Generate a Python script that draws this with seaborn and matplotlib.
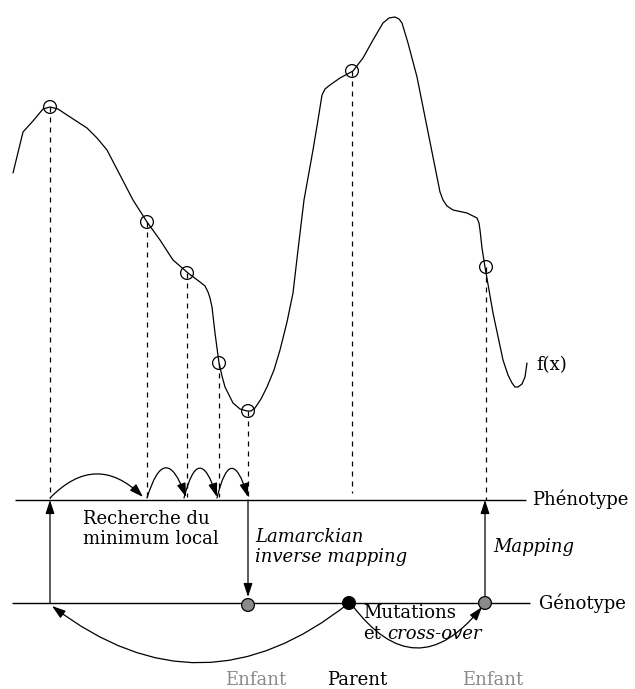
#!/usr/bin/env python3
"""
Lamarckian local search: phenotype / genotype diagram
"""

import pandas as pd
import matplotlib.pyplot as plt
import seaborn as sns
from matplotlib.patches import FancyArrowPatch

# ============================================
# Data (pixel-like coordinates, y grows downward)
# ============================================
curve_x = [13, 23, 33, 43, 50, 58, 67, 87, 97, 107, 120, 133, 147, 160, 173, 188,
           200, 205, 208, 210, 212, 215, 219, 222, 225, 233, 240, 247, 251, 255, 261,
           267, 274, 280, 287, 293, 298, 304, 313, 318, 322, 325, 330, 340,
           353, 363, 373, 383, 389, 395, 399, 402, 408, 417, 427, 437, 440, 443, 447,
           453, 467, 477, 479, 480, 482, 485, 493, 503, 508, 512, 515, 518, 522, 525, 527]
curve_y = [173, 132, 121, 109, 107, 109, 115, 128, 138, 150, 175, 200, 222, 240, 260, 273,
           282, 286, 292, 298, 307, 333, 363, 376, 387, 403, 409, 411, 411, 408, 399,
           387, 370, 350, 322, 293, 250, 200, 150, 120, 95, 89, 85, 78,
           71, 58, 40, 23, 18, 17, 19, 23, 43, 77, 127, 177, 192, 200, 206,
           210, 213, 218, 223, 230, 248, 267, 313, 360, 375, 383, 387, 387, 384, 377, 363]

# sampled points on f(x) (open circles) and where their dashed lines stop
probe_x = [50, 147, 187, 219, 248, 352, 486]
probe_y = [107, 222, 273, 363, 411, 71, 267]
probe_end = [498, 497, 497, 497, 497, 493, 500]

# levels
PHENO_Y = 500
GENO_Y = 603
pheno_span = [15, 526]
geno_span = [12, 530]

# individuals on the genotype line
geno_x = [248, 349, 485]
geno_role = ["Enfant", "Parent", "Enfant"]
geno_color = ["#8a8a8a", "black", "#8a8a8a"]

# local-search hops on the phenotype line
hop_start = [50, 147, 184, 217]
hop_end = [143, 186, 217, 248]
hop_rad = [-0.5, -1.5, -1.75, -1.85]

# ============================================
# Figure
# ============================================
sns.set_theme(style="white")
plt.rcParams['font.family'] = ['DejaVu Serif']
plt.rcParams['text.color'] = 'black'
plt.rcParams['lines.scale_dashes'] = False

fig = plt.figure(figsize=(6.35, 6.89), dpi=100)
ax = fig.add_axes([0, 0, 1, 1])

df_curve = pd.DataFrame({"x": curve_x, "y": curve_y})
sns.lineplot(x="x", y="y", data=df_curve, sort=False, estimator=None,
             color="black", lw=0.9, ax=ax)

# dashed projections
ax.vlines(probe_x, probe_y, probe_end, colors="black", lw=0.9,
          linestyles=(0, (3.6, 3.6)))

df_probe = pd.DataFrame({"x": probe_x, "y": probe_y})
sns.scatterplot(x="x", y="y", data=df_probe, s=85, facecolors="none",
                edgecolor="black", linewidth=0.9, ax=ax, zorder=3)

# phenotype / genotype lines
ax.hlines(PHENO_Y, *pheno_span, colors="black", lw=1.0)
ax.hlines(GENO_Y, *geno_span, colors="black", lw=1.0)


def arrow(p0, p1, rad=0.0):
    a = FancyArrowPatch(p0, p1, connectionstyle=f"arc3,rad={rad}",
                        arrowstyle="-|>,head_length=0.55,head_width=0.18",
                        mutation_scale=15, lw=0.9, color="black",
                        shrinkA=0, shrinkB=0, zorder=4)
    ax.add_patch(a)


for xs, xe, r in zip(hop_start, hop_end, hop_rad):
    arrow((xs, PHENO_Y - 2), (xe, PHENO_Y - 3), r)

# vertical arrows
arrow((probe_x[0], GENO_Y), (probe_x[0], PHENO_Y))
arrow((geno_x[0], PHENO_Y), (geno_x[0], GENO_Y - 6))
arrow((geno_x[2], GENO_Y - 6), (geno_x[2], PHENO_Y))

# parent -> children
arrow((geno_x[1], GENO_Y), (probe_x[0] + 2, GENO_Y + 3), -0.39)
arrow((geno_x[1] + 3, GENO_Y + 2), (geno_x[2] - 3, GENO_Y + 4), 0.64)

df_geno = pd.DataFrame({"x": geno_x, "y": [GENO_Y + 2, GENO_Y, GENO_Y]})
sns.scatterplot(x="x", y="y", data=df_geno, s=85, c=geno_color,
                edgecolor="black", linewidth=0.9, ax=ax, zorder=5)

# labels
FS = 13
ax.text(536, 370, "f(x)", fontsize=FS, va="baseline")
ax.text(532, 505, "Phénotype", fontsize=FS, va="baseline")
ax.text(539, 609, "Génotype", fontsize=FS, va="baseline")
ax.text(83, 524, "Recherche du", fontsize=FS, va="baseline")
ax.text(83, 544, "minimum local", fontsize=FS, va="baseline")
ax.text(255, 542, "Lamarckian", fontsize=FS, style="italic", va="baseline")
ax.text(255, 562, "inverse mapping", fontsize=FS, style="italic", va="baseline")
ax.text(493, 552, "Mapping", fontsize=FS, style="italic", va="baseline")
ax.text(363, 618, "Mutations", fontsize=FS, va="baseline")
ax.text(363, 639, "et", fontsize=FS, va="baseline")
ax.text(387, 639, "cross-over", fontsize=FS, style="italic", va="baseline")

for gx, role, col in zip(geno_x, geno_role, geno_color):
    ax.text(gx + 8, 685, role, fontsize=FS, color=col, ha="center", va="baseline")

ax.set_xlim(0, 635)
ax.set_ylim(689, 0)
ax.set_axis_off()
if ax.get_legend():
    ax.get_legend().remove()

plt.savefig("out.png", dpi=100)
plt.close()
